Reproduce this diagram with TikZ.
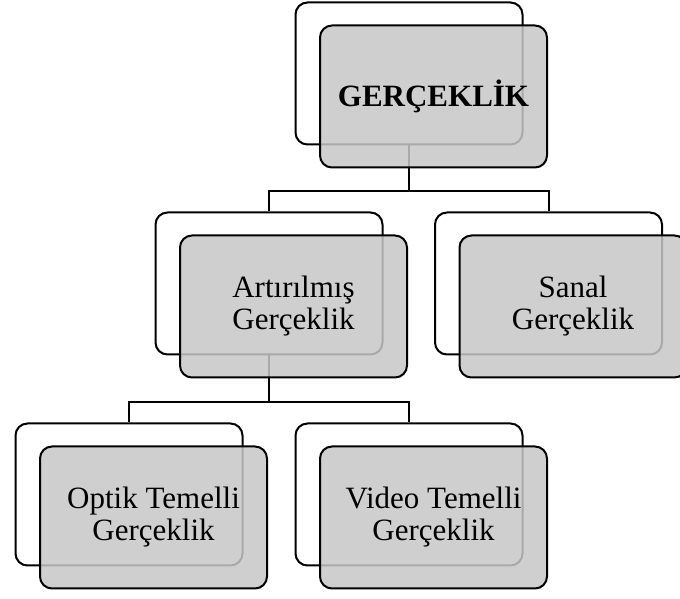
\documentclass[tikz,border=0pt]{standalone}
\usepackage{fontspec}
\setmainfont{Liberation Serif}
\usetikzlibrary{positioning}

\begin{document}
\begin{tikzpicture}[
			x=1pt, y=1pt,
			back/.style={
				draw,
				line width=2pt,
				rounded corners=12pt,
				fill=white,
				minimum width=227pt,
				minimum height=142pt
			},
			front/.style={
				back,
				fill=black!22,
				fill opacity=0.85,
				text opacity=1,
				align=center,
				font=\fontsize{31}{32}\selectfont,
				xshift=24.5pt,
				yshift=-23pt
			},
			link/.style={
				line width=2pt
			}
		]

		\useasboundingbox (0,0) rectangle (680,599);

		% back boxes
		\node [back] (B0) at (409,525.5) {};
		\node [back] (B1) at (269,315.5) {};
		\node [back] (B2) at (548.5,315.5) {};
		\node [back] (B3) at (129,104.5) {};
		\node [back] (B4) at (409,104.5) {};

		% tree lines
		\draw[link] (B0.south) -- ++(0,-46) -| (B1.north);
		\draw[link] (B0.south) -- ++(0,-46) -| (B2.north);
		\draw[link] (B1.south) -- ++(0,-47) -| (B3.north);
		\draw[link] (B1.south) -- ++(0,-47) -| (B4.north);

		% front boxes
		\node [front] (F0) at (B0) {\textbf{GERÇEKLİK}};
		\node [front] (F1) at (B1) {Artırılmış\\Gerçeklik};
		\node [front] (F2) at (B2) {Sanal\\Gerçeklik};
		\node [front] (F3) at (B3) {Optik Temelli\\Gerçeklik};
		\node [front] (F4) at (B4) {Video Temelli\\Gerçeklik};

	\end{tikzpicture}
\end{document}
